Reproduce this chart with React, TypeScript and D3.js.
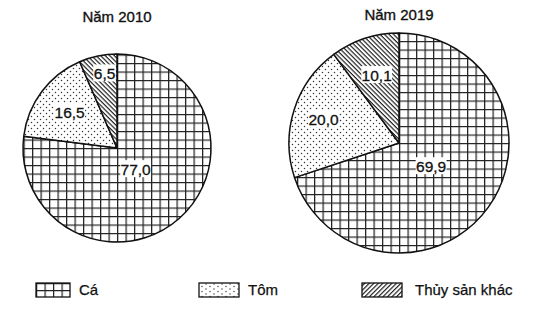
import React from "react";
import * as d3 from "d3";

const categories = ["Cá", "Tôm", "Thủy sản khác"];
const years = ["Năm 2010", "Năm 2019"];
const values2010 = [77.0, 16.5, 6.5];
const values2019 = [69.9, 20.0, 10.1];
const labels2010 = ["77,0", "16,5", "6,5"];
const labels2019 = ["69,9", "20,0", "10,1"];

const W = 543;
const H = 309;
const FONT = "'Liberation Sans', Arial, sans-serif";

const pies = [
  { title: years[0], values: values2010, labels: labels2010, cx: 117, cy: 148, r: 94, lf: [0.3, 0.63, 0.81], ty: 22 },
  { title: years[1], values: values2019, labels: labels2019, cx: 399, cy: 143, r: 110, lf: [0.36, 0.72, 0.65], ty: 20 },
];
const fills = ["url(#grid)", "url(#dots)", "url(#hatch)"];
const legendFills = ["url(#gridL)", "url(#dotsL)", "url(#hatchL)"];
const legendX = [36, 199, 362];

export default function App() {
  const pieGen = d3.pie<number>().sort(null).value((d) => d);
  return (
    <svg width={W} height={H} style={{ display: "block", position: "absolute", left: 0, top: 0, background: "#fff" }}>
      <defs>
        <pattern id="grid" width={8.5} height={8.5} patternUnits="userSpaceOnUse">
          <rect width={8.5} height={8.5} fill="#fff" />
          <path d="M0,0.6H8.5M0.6,0V8.5" stroke="#222" strokeWidth={1.3} />
        </pattern>
        <pattern id="dots" width={6} height={6} patternUnits="userSpaceOnUse">
          <rect width={6} height={6} fill="#fff" />
          <circle cx={1.5} cy={1.5} r={0.75} fill="#333" />
          <circle cx={4.5} cy={4.5} r={0.75} fill="#333" />
        </pattern>
        <pattern id="hatch" width={3.2} height={3.2} patternUnits="userSpaceOnUse" patternTransform="rotate(45)">
          <rect width={3.2} height={3.2} fill="#fff" />
          <line x1={0} y1={0} x2={3.2} y2={0} stroke="#222" strokeWidth={2.4} />
        </pattern>
        <pattern id="gridL" x={36} y={283} width={8.5} height={7} patternUnits="userSpaceOnUse">
          <rect width={8.5} height={7} fill="#fff" />
          <path d="M0,0.6H8.5M0.6,0V7" stroke="#222" strokeWidth={1.2} />
        </pattern>
        <pattern id="dotsL" width={8} height={5} patternUnits="userSpaceOnUse">
          <rect width={8} height={5} fill="#fff" />
          <circle cx={2} cy={1.5} r={0.7} fill="#333" />
          <circle cx={6} cy={4} r={0.7} fill="#333" />
        </pattern>
        <pattern id="hatchL" width={3.2} height={3.2} patternUnits="userSpaceOnUse" patternTransform="rotate(-45)">
          <rect width={3.2} height={3.2} fill="#fff" />
          <line x1={0} y1={0} x2={3.2} y2={0} stroke="#222" strokeWidth={2.4} />
        </pattern>
      </defs>
      <rect width={W} height={H} fill="#fff" />
      {pies.map((p, pi) => {
        const arcs = pieGen(p.values);
        const arc = d3.arc<d3.PieArcDatum<number>>().innerRadius(0).outerRadius(p.r);
        return (
          <g key={pi}>
            <text x={p.cx} y={p.ty} textAnchor="middle" fontFamily={FONT} fontSize={15} fill="#111" stroke="#111" strokeWidth={0.35}>
              {p.title}
            </text>
            <g transform={`translate(${p.cx},${p.cy})`}>
              {arcs.map((a, i) => (
                <path key={i} d={arc(a) || ""} fill={fills[i]} stroke="#111" strokeWidth={1.5} strokeLinejoin="round" />
              ))}
              {arcs.map((a, i) => {
                const mid = (a.startAngle + a.endAngle) / 2;
                const rr = p.r * p.lf[i];
                const x = Math.sin(mid) * rr + (i === 2 && pi === 0 ? 3 : 0);
                const y = -Math.cos(mid) * rr;
                const w = p.labels[i].length * 8.2 - 2;
                return (
                  <g key={"l" + i}>
                    <rect x={x - w / 2} y={y - 9} width={w} height={17} fill="#fff" />
                    <text x={x} y={y + 5.5} textAnchor="middle" fontFamily={FONT} fontSize={15.5} fill="#111" stroke="#111" strokeWidth={0.3}>
                      {p.labels[i]}
                    </text>
                  </g>
                );
              })}
            </g>
          </g>
        );
      })}
      {categories.map((c, i) => (
        <g key={c}>
          <rect x={legendX[i]} y={283} width={i === 0 ? 34 : 40} height={14} fill={legendFills[i]} stroke="#111" strokeWidth={1.3} />
          <text x={legendX[i] + (i === 0 ? 43 : 49) + (i === 2 ? 4 : 0)} y={295} fontFamily={FONT} fontSize={15} fill="#111" stroke="#111" strokeWidth={0.25}>
            {c}
          </text>
        </g>
      ))}
    </svg>
  );
}
